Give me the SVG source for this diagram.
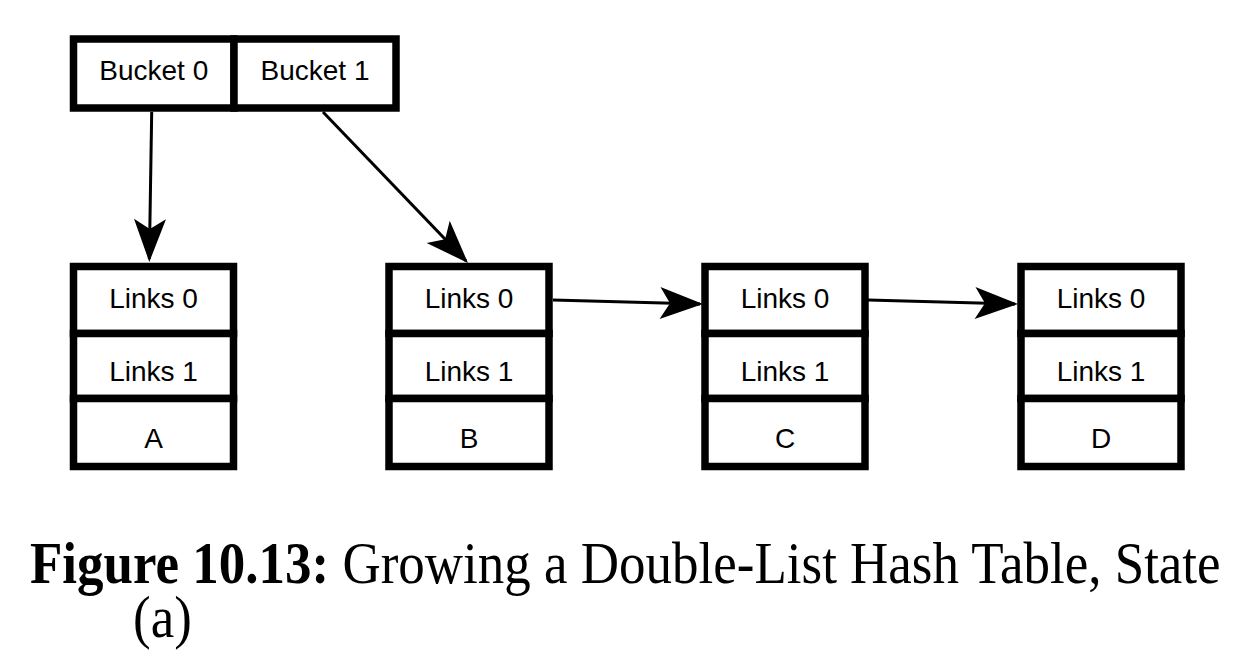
<svg xmlns="http://www.w3.org/2000/svg" width="1252" height="667" viewBox="0 0 1252 667">
  <style>
    .cell { fill: #ffffff; stroke: #000000; stroke-width: 7.5; }
    .lbl { font-family: "Liberation Sans", Arial, Helvetica, sans-serif; font-size: 28px; fill: #000000; text-anchor: middle; }
    .conn { stroke: #000000; stroke-width: 3; fill: none; marker-end: url(#arrow); }
    .cap { font-family: "Liberation Serif", "Times New Roman", serif; font-size: 53px; fill: #000000; }
  </style>
  <defs>
    <marker id="arrow" markerUnits="userSpaceOnUse" markerWidth="60" markerHeight="60" refX="0" refY="0" orient="auto" overflow="visible">
      <path d="M3,0 L-40,-16 L-30,0 L-40,16 Z" fill="#000000"/>
    </marker>
  </defs>
  <rect x="0" y="0" width="1252" height="667" fill="#ffffff"/>

  <g id="connectors">
    <line class="conn" x1="151.7" y1="112" x2="149.35" y2="259"/>
    <line class="conn" x1="323" y1="112" x2="465.9" y2="260.8"/>
    <line class="conn" x1="553" y1="300" x2="700" y2="304"/>
    <line class="conn" x1="868" y1="300" x2="1015" y2="304"/>
  </g>

  <g id="bucket0">
    <rect class="cell" x="73.5" y="39" width="160.5" height="69"/>
    <text class="lbl" x="153.75" y="80">Bucket 0</text>
  </g>
  <g id="bucket1">
    <rect class="cell" x="234" y="39" width="162" height="69"/>
    <text class="lbl" x="315" y="80">Bucket 1</text>
  </g>

  <g id="nodeA">
    <rect class="cell" x="73.5" y="266.5" width="160" height="67"/>
    <rect class="cell" x="73.5" y="333.5" width="160" height="65"/>
    <rect class="cell" x="73.5" y="398.5" width="160" height="68"/>
    <text class="lbl" x="153.5" y="308">Links 0</text>
    <text class="lbl" x="153.5" y="381">Links 1</text>
    <text class="lbl" x="153.5" y="448">A</text>
  </g>
  <g id="nodeB">
    <rect class="cell" x="389" y="266.5" width="160" height="67"/>
    <rect class="cell" x="389" y="333.5" width="160" height="65"/>
    <rect class="cell" x="389" y="398.5" width="160" height="68"/>
    <text class="lbl" x="469" y="308">Links 0</text>
    <text class="lbl" x="469" y="381">Links 1</text>
    <text class="lbl" x="469" y="448">B</text>
  </g>
  <g id="nodeC">
    <rect class="cell" x="705" y="266.5" width="160" height="67"/>
    <rect class="cell" x="705" y="333.5" width="160" height="65"/>
    <rect class="cell" x="705" y="398.5" width="160" height="68"/>
    <text class="lbl" x="785" y="308">Links 0</text>
    <text class="lbl" x="785" y="381">Links 1</text>
    <text class="lbl" x="785" y="448">C</text>
  </g>
  <g id="nodeD">
    <rect class="cell" x="1021" y="266.5" width="160" height="67"/>
    <rect class="cell" x="1021" y="333.5" width="160" height="65"/>
    <rect class="cell" x="1021" y="398.5" width="160" height="68"/>
    <text class="lbl" x="1101" y="308">Links 0</text>
    <text class="lbl" x="1101" y="381">Links 1</text>
    <text class="lbl" x="1101" y="448">D</text>
  </g>

  <g id="caption">
    <text class="cap" x="30" y="583" transform="translate(0,583) scale(1,1.12) translate(0,-583)"><tspan font-weight="bold">Figure 10.13:</tspan> Growing a Double-List Hash Table, State</text>
    <text class="cap" x="133" y="637" transform="translate(0,637) scale(1,1.12) translate(0,-637)">(a)</text>
  </g>
</svg>
